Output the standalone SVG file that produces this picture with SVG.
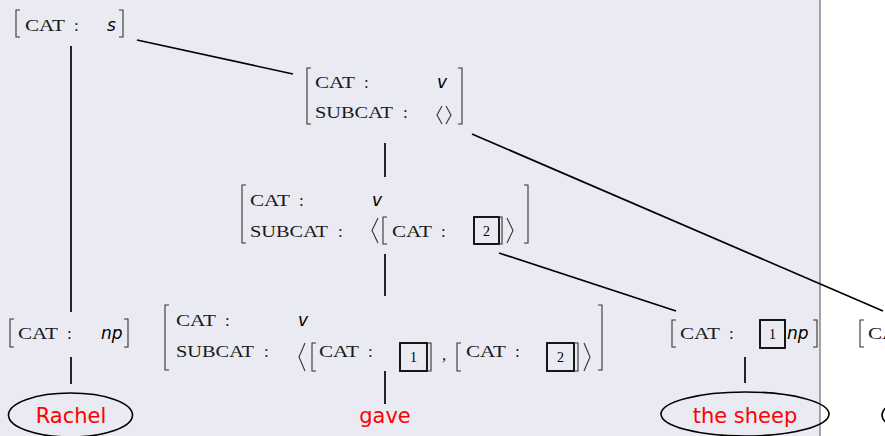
<svg xmlns="http://www.w3.org/2000/svg" width="885" height="436" viewBox="0 0 885 436">
  <style>
    .k { font-family: "Liberation Serif", serif; font-size: 17px; fill: #1a1a1a; }
    .v { font-family: "DejaVu Sans", sans-serif; font-style: italic; font-size: 17px; fill: #000; }
    .w { font-family: "DejaVu Sans", sans-serif; font-size: 21px; fill: #ff0000; text-anchor: middle; }
    .num { font-family: "Liberation Serif", serif; font-size: 14px; fill: #000; text-anchor: middle; }
    .br { fill: none; stroke: #333; stroke-width: 1.1; }
    .box { fill: none; stroke: #000; stroke-width: 1.8; }
    .edge { stroke: #000; stroke-width: 1.7; fill: none; }
    .leaf { fill: none; stroke: #000; stroke-width: 1.6; }
  </style>

  <!-- panel background -->
  <rect x="0" y="0" width="885" height="436" fill="#ffffff"/>
  <rect x="0" y="0" width="820" height="436" fill="#eaeaf2"/>
  <line x1="820" y1="0" x2="820" y2="436" stroke="#808080" stroke-width="1.4"/>

  <!-- tree edges -->
  <g id="connectors">
    <line class="edge" x1="71" y1="46" x2="71" y2="312"/>
    <line class="edge" x1="137" y1="40" x2="293" y2="74"/>
    <line class="edge" x1="385" y1="143" x2="385" y2="177"/>
    <line class="edge" x1="472" y1="134" x2="883" y2="311"/>
    <line class="edge" x1="385" y1="254" x2="385" y2="296"/>
    <line class="edge" x1="499" y1="253" x2="676" y2="311"/>
    <line class="edge" x1="71" y1="357" x2="71" y2="384"/>
    <line class="edge" x1="385" y1="371" x2="385" y2="404"/>
    <line class="edge" x1="745" y1="357" x2="745" y2="383"/>
  </g>

  <!-- S -->
  <g id="node-s">
    <path class="br" d="M20 10H16V37H20"/>
    <text class="k" x="25" y="30.5" textLength="40" lengthAdjust="spacingAndGlyphs">CAT</text>
    <text class="k" x="74" y="30.5">:</text>
    <text class="v" x="107" y="30.5">s</text>
    <path class="br" d="M119 10H123V37H119"/>
  </g>

  <!-- VP, empty subcat -->
  <g id="node-vp">
    <path class="br" d="M311 68H307V124H311"/>
    <text class="k" x="315" y="88" textLength="40" lengthAdjust="spacingAndGlyphs">CAT</text>
    <text class="k" x="364" y="88">:</text>
    <text class="k" x="315" y="118" textLength="78" lengthAdjust="spacingAndGlyphs">SUBCAT</text>
    <text class="k" x="403" y="118">:</text>
    <text class="v" x="437" y="88">v</text>
    <path class="br" d="M442 106L437 115L442 124M446 106L451 115L446 124"/>
    <path class="br" d="M458 68H462V124H458"/>
  </g>

  <!-- V', subcat [2] -->
  <g id="node-vbar">
    <path class="br" d="M246 185H242V243H246"/>
    <text class="k" x="250" y="206" textLength="40" lengthAdjust="spacingAndGlyphs">CAT</text>
    <text class="k" x="299" y="206">:</text>
    <text class="k" x="250" y="237" textLength="78" lengthAdjust="spacingAndGlyphs">SUBCAT</text>
    <text class="k" x="338" y="237">:</text>
    <text class="v" x="372" y="206">v</text>
    <path class="br" d="M378 218L372 230.5L378 243"/>
    <path class="br" d="M387 217H383V244H387"/>
    <text class="k" x="392" y="237" textLength="40" lengthAdjust="spacingAndGlyphs">CAT</text>
    <text class="k" x="441" y="237">:</text>
    <rect class="box" x="474" y="217" width="25" height="27"/>
    <text class="num" x="486.5" y="235.5">2</text>
    <path class="br" d="M498 217H502V244H498"/>
    <path class="br" d="M507 218L513 230.5L507 243"/>
    <path class="br" d="M524 185H528V243H524"/>
  </g>

  <!-- NP subject -->
  <g id="node-np-subj">
    <path class="br" d="M14 319H10V347H14"/>
    <text class="k" x="18" y="338.5" textLength="40" lengthAdjust="spacingAndGlyphs">CAT</text>
    <text class="k" x="67" y="338.5">:</text>
    <text class="v" x="101" y="338.5">np</text>
    <path class="br" d="M124 319H128V347H124"/>
  </g>

  <!-- verb entry -->
  <g id="node-verb">
    <path class="br" d="M169 305H165V370H169"/>
    <text class="k" x="176" y="326" textLength="40" lengthAdjust="spacingAndGlyphs">CAT</text>
    <text class="k" x="225" y="326">:</text>
    <text class="k" x="176" y="357" textLength="78" lengthAdjust="spacingAndGlyphs">SUBCAT</text>
    <text class="k" x="264" y="357">:</text>
    <text class="v" x="298" y="326">v</text>
    <path class="br" d="M305 343L299 357L305 371"/>
    <path class="br" d="M316 343H312V371H316"/>
    <text class="k" x="319" y="357" textLength="40" lengthAdjust="spacingAndGlyphs">CAT</text>
    <text class="k" x="368" y="357">:</text>
    <rect class="box" x="400" y="343" width="27" height="28"/>
    <text class="num" x="413.5" y="362">1</text>
    <path class="br" d="M427 343H431V371H427"/>
    <text class="k" x="442" y="360">,</text>
    <path class="br" d="M461 343H457V371H461"/>
    <text class="k" x="466" y="357" textLength="40" lengthAdjust="spacingAndGlyphs">CAT</text>
    <text class="k" x="515" y="357">:</text>
    <rect class="box" x="547" y="343" width="27" height="28"/>
    <text class="num" x="560.5" y="362">2</text>
    <path class="br" d="M574 343H578V371H574"/>
    <path class="br" d="M584 343L590 357L584 371"/>
    <path class="br" d="M598 305H602V370H598"/>
  </g>

  <!-- NP object -->
  <g id="node-np-obj">
    <path class="br" d="M676 320H672V347H676"/>
    <text class="k" x="680" y="339" textLength="40" lengthAdjust="spacingAndGlyphs">CAT</text>
    <text class="k" x="729" y="339">:</text>
    <rect class="box" x="760" y="320" width="25" height="28"/>
    <text class="num" x="772.5" y="339">1</text>
    <text class="v" x="787" y="339">np</text>
    <path class="br" d="M813 320H817V347H813"/>
  </g>

  <!-- third argument, running off the right edge -->
  <g id="node-np-obj2">
    <path class="br" d="M864 320H860V347H864"/>
    <text class="k" x="868" y="339" textLength="40" lengthAdjust="spacingAndGlyphs">CAT</text>
  </g>

  <!-- words -->
  <g id="word-rachel">
    <ellipse class="leaf" cx="70.5" cy="415" rx="62" ry="22"/>
    <text class="w" x="71" y="423">Rachel</text>
  </g>
  <g id="word-gave">
    <text class="w" x="385" y="423">gave</text>
  </g>
  <g id="word-sheep">
    <ellipse class="leaf" cx="745" cy="414" rx="84" ry="22"/>
    <text class="w" x="745" y="423">the sheep</text>
  </g>
  <g id="word-next">
    <ellipse class="leaf" cx="955" cy="415" rx="73" ry="22"/>
  </g>
</svg>
